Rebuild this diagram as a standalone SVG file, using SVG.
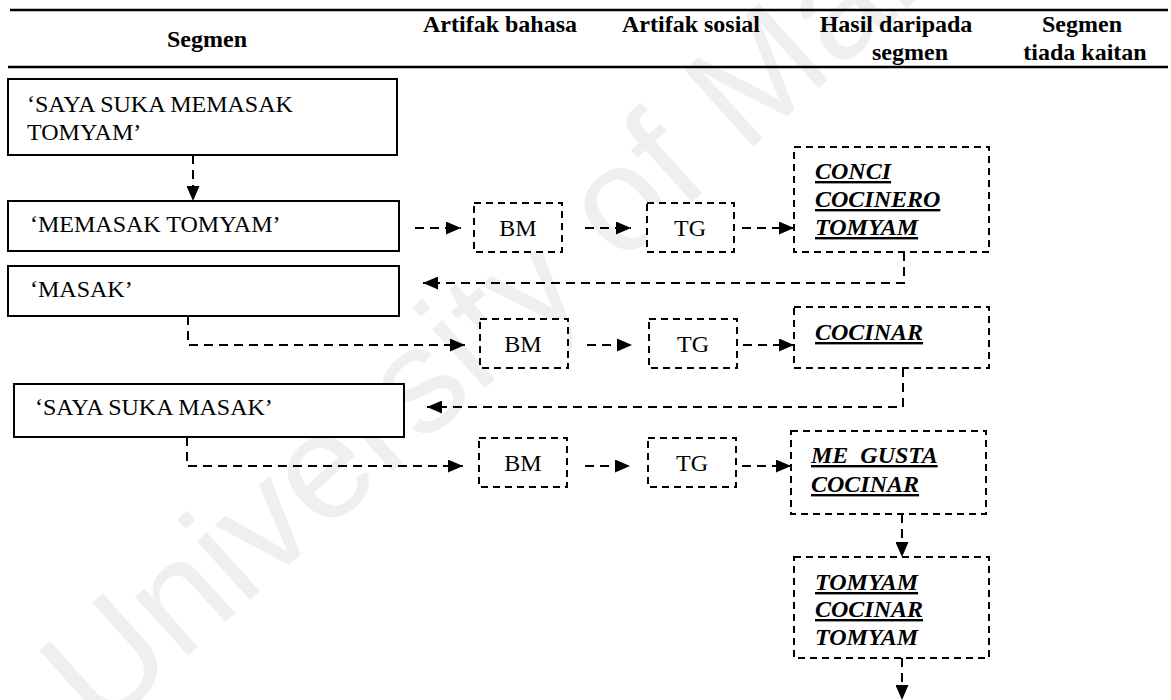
<svg xmlns="http://www.w3.org/2000/svg" width="1171" height="700" viewBox="0 0 1171 700">
  <defs>
    <marker id="arr" markerUnits="userSpaceOnUse" markerWidth="15" markerHeight="13" refX="15" refY="6.5" orient="auto">
      <path d="M0,0 L15,6.5 L0,13 Z" fill="#000"/>
    </marker>
    <style>
      .wm { font-family: "Liberation Sans", Arial, sans-serif; font-size: 150px; fill: #efefef; }
      .hdr { font-family: "Liberation Serif", "Times New Roman", serif; font-size: 24px; font-weight: bold; fill: #000; }
      .rule { stroke: #000; stroke-width: 2.5; }
      .seg rect { fill: #fff; stroke: #000; stroke-width: 2; }
      .txt { font-family: "Liberation Serif", "Times New Roman", serif; font-size: 24px; fill: #000; }
      .dbox rect { fill: #fff; stroke: #000; stroke-width: 2; stroke-dasharray: 7 5; }
      .res { font-family: "Liberation Serif", "Times New Roman", serif; font-size: 24px; font-weight: bold; font-style: italic; fill: #000; }
      .u { text-decoration: underline; text-decoration-thickness: 2.5px; }
      .conn path { fill: none; stroke: #000; stroke-width: 2; stroke-dasharray: 9 6; marker-end: url(#arr); }
    </style>
  </defs>
  <rect width="1171" height="700" fill="#fff"/>

  <g id="watermark">
    <text class="wm" x="100" y="735" transform="rotate(-42 100 735)">University of Malaya</text>
  </g>

  <g id="header">
    <line class="rule" x1="10" y1="10" x2="1168" y2="10"/>
    <line class="rule" x1="8" y1="67" x2="1168" y2="67"/>
    <text class="hdr" x="207" y="47" text-anchor="middle">Segmen</text>
    <text class="hdr" x="423" y="32">Artifak bahasa</text>
    <text class="hdr" x="622" y="32">Artifak sosial</text>
    <text class="hdr" x="896" y="32" text-anchor="middle">Hasil daripada</text>
    <text class="hdr" x="910" y="60" text-anchor="middle">segmen</text>
    <text class="hdr" x="1082" y="32" text-anchor="middle">Segmen</text>
    <text class="hdr" x="1085" y="60" text-anchor="middle">tiada kaitan</text>
  </g>

  <g id="connectors" class="conn">
    <path d="M193,155 V201"/>
    <path d="M415,228 H461"/>
    <path d="M585,228 H631"/>
    <path d="M742,228 H794"/>
    <path d="M904,252 V283 H423"/>
    <path d="M188,316 V345 H465"/>
    <path d="M587,345 H632"/>
    <path d="M743,345 H794"/>
    <path d="M903,368 V407 H427"/>
    <path d="M187,437 V466 H463"/>
    <path d="M585,466 H630"/>
    <path d="M742,466 H791"/>
    <path d="M902,514 V557"/>
    <path d="M902,658 V700"/>
  </g>

  <g id="seg1" class="seg">
    <rect x="8" y="79" width="389" height="76"/>
    <text class="txt" x="27" y="112">‘SAYA SUKA MEMASAK</text>
    <text class="txt" x="27" y="140">TOMYAM’</text>
  </g>
  <g id="seg2" class="seg">
    <rect x="8" y="201" width="391" height="50"/>
    <text class="txt" x="30" y="232">‘MEMASAK TOMYAM’</text>
  </g>
  <g id="seg3" class="seg">
    <rect x="8" y="266" width="391" height="50"/>
    <text class="txt" x="30" y="297">‘MASAK’</text>
  </g>
  <g id="seg4" class="seg">
    <rect x="14" y="384" width="390" height="53"/>
    <text class="txt" x="35" y="415">‘SAYA SUKA MASAK’</text>
  </g>

  <g id="bm1" class="dbox">
    <rect x="474" y="203" width="88" height="49"/>
    <text class="txt" x="518" y="236" text-anchor="middle">BM</text>
  </g>
  <g id="tg1" class="dbox">
    <rect x="647" y="203" width="87" height="49"/>
    <text class="txt" x="690" y="236" text-anchor="middle">TG</text>
  </g>
  <g id="res1" class="dbox">
    <rect x="794" y="147" width="195" height="105"/>
    <text class="res u" x="815" y="179">CONCI</text>
    <text class="res u" x="815" y="207">COCINERO</text>
    <text class="res u" x="815" y="235">TOMYAM</text>
  </g>

  <g id="bm2" class="dbox">
    <rect x="480" y="319" width="88" height="49"/>
    <text class="txt" x="523" y="352" text-anchor="middle">BM</text>
  </g>
  <g id="tg2" class="dbox">
    <rect x="649" y="319" width="88" height="49"/>
    <text class="txt" x="693" y="352" text-anchor="middle">TG</text>
  </g>
  <g id="res2" class="dbox">
    <rect x="794" y="307" width="195" height="61"/>
    <text class="res u" x="815" y="340">COCINAR</text>
  </g>

  <g id="bm3" class="dbox">
    <rect x="479" y="438" width="88" height="49"/>
    <text class="txt" x="523" y="471" text-anchor="middle">BM</text>
  </g>
  <g id="tg3" class="dbox">
    <rect x="648" y="438" width="88" height="49"/>
    <text class="txt" x="692" y="471" text-anchor="middle">TG</text>
  </g>
  <g id="res3" class="dbox">
    <rect x="791" y="431" width="195" height="83"/>
    <text class="res u" x="811" y="463" xml:space="preserve">ME  GUSTA</text>
    <text class="res u" x="811" y="492">COCINAR</text>
  </g>
  <g id="res4" class="dbox">
    <rect x="794" y="557" width="195" height="101"/>
    <text class="res u" x="815" y="590">TOMYAM</text>
    <text class="res u" x="815" y="617">COCINAR</text>
    <text class="res" x="815" y="645">TOMYAM</text>
  </g>
</svg>
